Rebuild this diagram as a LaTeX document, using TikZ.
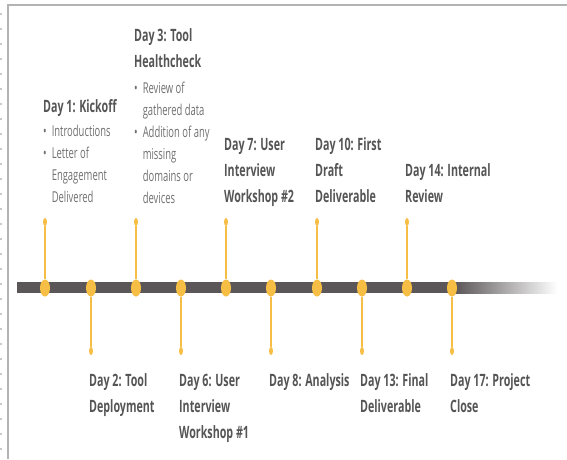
\documentclass[tikz,border=0pt]{standalone}
\usepackage{fontspec}
\setmainfont[FakeStretch=0.63]{Open Sans}
\usetikzlibrary{shapes.geometric}
\definecolor{bar}{HTML}{5B5657}
\definecolor{gold}{HTML}{F6BE45}
\definecolor{head}{HTML}{555555}
\definecolor{body}{HTML}{707070}
\definecolor{frame}{HTML}{B3B3B3}
\begin{document}
\begin{tikzpicture}[x=1pt, y=-1pt,
    dot/.style={ellipse, fill=gold, minimum width=10pt, minimum height=17pt, inner sep=0},
    tip/.style={ellipse, fill=gold, minimum width=4pt, minimum height=8pt, inner sep=0},
    stem/.style={gold, line width=1.6pt},
    day/.style={anchor=base west, inner sep=0, align=left, text=head, font=\fontsize{17}{26}\selectfont\bfseries},
    item/.style={anchor=base west, inner sep=0, text=body, font=\fontsize{15}{22}\selectfont}]
        \useasboundingbox (0,0) rectangle (567,459);
        \draw [frame, line width=2pt] (7.5,459) -- (7.5,4.5) -- (567,4.5);
        \draw [frame!70, line width=2pt, dash pattern=on 1.5pt off 13.5pt] (1,13) -- (1,459);
        % bar
        \fill [bar] (17,282) rectangle (455,293);
        \shade [left color=bar, right color=white] (455,282) rectangle (557,293);
        \node [tip] (t1) at (45,222) {};
        \node [tip] (t2) at (91,351) {};
        \node [tip] (t3) at (136,222) {};
        \node [tip] (t4) at (181,351) {};
        \node [tip] (t5) at (226,222) {};
        \node [tip] (t6) at (271,351) {};
        \node [tip] (t7) at (317,222) {};
        \node [tip] (t8) at (362,351) {};
        \node [tip] (t9) at (407,222) {};
        \node [tip] (t10) at (452,351) {};
        \node [dot] (d1) at (45,288) {};
        \node [dot] (d2) at (91,288) {};
        \node [dot] (d3) at (136,288) {};
        \node [dot] (d4) at (181,288) {};
        \node [dot] (d5) at (226,288) {};
        \node [dot] (d6) at (271,288) {};
        \node [dot] (d7) at (317,288) {};
        \node [dot] (d8) at (362,288) {};
        \node [dot] (d9) at (407,288) {};
        \node [dot] (d10) at (452,288) {};
        \draw [stem] (t1) -- (d1);
        \draw [stem] (t2) -- (d2);
        \draw [stem] (t3) -- (d3);
        \draw [stem] (t4) -- (d4);
        \draw [stem] (t5) -- (d5);
        \draw [stem] (t6) -- (d6);
        \draw [stem] (t7) -- (d7);
        \draw [stem] (t8) -- (d8);
        \draw [stem] (t9) -- (d9);
        \draw [stem] (t10) -- (d10);
        % top labels (base = last line)
        \node [day] (h1) at (43,112) {Day 1: Kickoff};
        \node [item] (b1) at (43,136) {\begin{tabular}[t]{@{}l@{\hspace{5pt}}l@{}}\textbullet & Introductions\\ \textbullet & Letter of\\ & Engagement\\ & Delivered\end{tabular}};
        \node [day] (h3) at (134,67) {Day 3: Tool\\Healthcheck};
        \node [item] (b3) at (134,93) {\begin{tabular}[t]{@{}l@{\hspace{5pt}}l@{}}\textbullet & Review of\\ & gathered data\\ \textbullet & Addition of any\\ & missing\\ & domains or\\ & devices\end{tabular}};
        \node [day] (h7) at (224,202) {Day 7: User\\Interview\\Workshop \#2};
        \node [day] (h10) at (315,202) {Day 10: First\\Draft\\Deliverable};
        \node [day] (h14) at (405,202) {Day 14: Internal\\Review};
        % bottom labels
        \node [day] (h2) at (89,412) {Day 2: Tool\\Deployment};
        \node [day] (h6) at (179,438) {Day 6: User\\Interview\\Workshop \#1};
        \node [day] (h8) at (269,386) {Day 8: Analysis};
        \node [day] (h13) at (360,412) {Day 13: Final\\Deliverable};
        \node [day] (h17) at (450,412) {Day 17: Project\\Close};
\end{tikzpicture}
\end{document}
